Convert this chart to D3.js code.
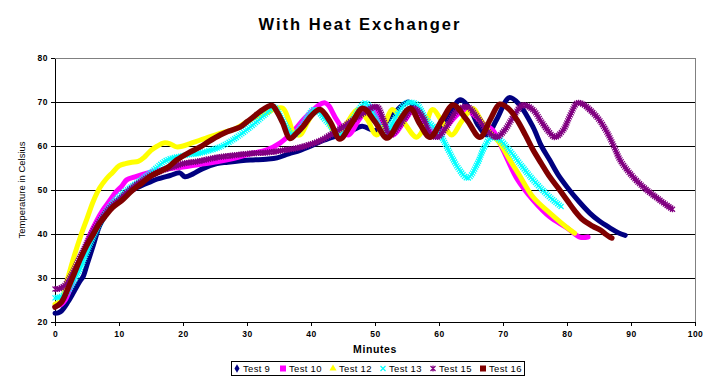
<!DOCTYPE html>
<html><head><meta charset="utf-8">
<script src="https://cdn.jsdelivr.net/npm/d3@7"></script>
<style>
html,body{margin:0;padding:0;background:#fff;}
svg{display:block;font-family:"Liberation Sans",Arial,sans-serif;}
</style></head>
<body>
<svg id="chart" width="720" height="382"></svg>
<script>
// ---------- DATA ----------
const title = "With Heat Exchanger";
const xTicks = [0,10,20,30,40,50,60,70,80,90,100];
const yTicks = [20,30,40,50,60,70,80];
const seriesNames = ["Test 9","Test 10","Test 12","Test 13","Test 15","Test 16"];

const test9Min  = [0,0.5,1,2,3,4,4.4,5,6,7,8,9,9.7,11,12.5,14.8,16,18,19.5,20.3,21.5,23,25.3,27,30.5,33,34.7,36.5,38.3,40,42,44,46,48,50,51.5,53,55.2,56.5,58,59.7,61.3,63.3,65,66,67.5,69,71,72.5,74.7,76,77.3,78.6,80,81.8,83.6,85,86.7,88,89.1];
const test9Temp = [22,22.1,22.5,24.5,27,29.5,30.3,33,37.5,42,44.5,46.5,47.5,49,50.3,51.8,52.5,53.3,53.9,53,53.6,54.8,56,56.3,56.8,57,57.3,58.2,59,60,61.3,62.3,63.2,64.5,63.5,65,67.5,70,68.3,64.5,62.5,66,70.5,68,65,62.5,66,71,69.5,64.3,60,56.8,53.5,50.7,47.5,44.7,43,41.4,40.3,39.7];

const test10Min  = [0,1,1.6,2.5,3.5,4.5,5.5,6.5,7.5,8.5,9.5,10.5,11.2,12.5,14.8,17,20,22.5,25.3,28,30.5,33.1,35.2,37,39.5,42.2,44,45.8,47.5,49.3,51.3,52.8,54.5,56.3,58,59.7,61.5,64,65.5,67,68.4,70,72.2,74.7,77.3,80,82,83.3];
const test10Temp = [23.5,24,25,28,32,36,40,43,45.5,47.5,49.5,51,52.3,53,54,54.7,55.2,55.8,56.4,57.2,58.2,59.1,60.7,63,67,69.8,66,62.5,66,69,65,62.5,65.5,68.5,65,62.5,65,68.3,67,65,63.6,59.1,52.5,47.7,43.9,41.4,39.3,39.3];

const test12Min  = [0,1,2,3,4,5,6,7,8,9,10,11,12,13,14,15,16,17,18,19,20,21,22,23,24,25,26,28,30,32,33,34.5,35.6,36.5,37.3,38.3,39.5,41,42.5,44,45.5,47.3,48.8,50.2,51.5,52.7,54.2,56.5,57.8,59,60.5,62,63.5,65.3,66.5,68,69.5,71,72.5,74.7,77.3,80.5,81.2];
const test12Temp = [24,25,30,35,39.5,43.5,47.5,50.5,52.5,54,55.5,56,56.3,56.5,57.5,59,60,60.7,60.5,59.8,60,60.5,61,61.5,62,62.5,63,63.8,65.5,67,67.5,68.5,68.6,66,63,62.5,65.5,68.3,66,62.5,65,68.3,66,62.5,65,68.3,66,62,64.5,68.3,65.5,62.5,65.5,68.5,66,63,60.7,57,53.5,48.4,44.8,40.9,40.2];

const test13Min  = [0,1,2,3,4,5,6,7,8,9,10,11.5,13,15,17.5,20,22.7,25.8,27.8,30.5,33.1,34.2,35.5,37.2,38.8,40.5,42.5,44.5,46.5,48.5,50,51.6,53,55,56.5,58,60,61.5,63,64.5,66,67,68.2,69.5,71,72.2,74.7,77.3,79.2];
const test13Temp = [25.5,25.8,27,29.5,32.5,36,39.5,42.5,45,47,48.5,50.3,51.8,54,56.8,57.8,58.4,59.8,61.4,64.3,67.5,68.9,66,62.5,65,68.3,65.5,62.5,66,69.8,66.5,62.5,66,69.8,69.5,66,63,59,55,52.7,56,59.5,62,61.4,59,56.8,52.3,48.4,46.1];

const test15Min  = [0,0.5,1,1.6,2.5,3.5,4.5,5.5,6.5,7.5,8.5,10,11.5,13,15,16.5,18.3,20,22.3,25.3,28,30.5,33,35.6,38.3,41.4,43,45,47.7,50.3,51.3,52.3,54,56,57.5,58.5,59.7,61,62.8,64.4,66,67.5,69,70.2,71.6,73.1,74.7,76,77.3,78.1,79.4,80.5,81.6,82.5,83.6,85,86.3,87.3,88.3,90,91.9,94.5,96.6];
const test15Temp = [27.5,27.5,27.8,28.4,30.5,33.5,36.5,39.5,42,44,45.8,47.8,49.8,51.5,53.3,54.3,55.2,56,56.5,57.4,57.9,58.3,58.5,59,59.7,61.2,62.5,64.3,67,68.9,66,62.5,65,68.5,66.5,63,62,64,68,68.9,66.5,63.5,62,63.5,66.6,69.3,68.2,65.5,63,62,63.6,67,69.8,69.5,68.2,66,63,60,56.8,53.5,50.7,47.7,45.5];

const test16Min  = [0,1,2,3,4,5,6,7,8,9,10.5,12,13.6,15,17.7,19,20.8,22.7,24,25.8,27,28.9,30,31,32,33.9,34.8,35.6,36.7,37.8,38.8,40,41.4,43,44.5,46.3,48.1,50,51.9,53.7,55.5,57,58.6,60.5,62.2,64.3,66.4,68,69.5,71,72.2,73.5,74.7,76,77.3,78.7,80,81.2,82.5,84,85.2,86,86.7,87];
const test16Temp = [23.4,24.5,27.5,31,34.5,37.5,40,42.5,44.3,46,47.7,49.8,51.6,53.2,55.2,56.8,58.4,59.8,61,62.5,63.3,64.3,65.5,66.6,67.8,69.2,67.5,65.2,61.7,63,64.5,66.8,68.3,65.5,61.6,65,68.6,65.5,61.8,65.5,68.6,65,62,66,69.3,66,62,66,69.5,68.3,65.9,62.5,59.1,56,53,50.3,47.7,45.3,43.2,41.8,40.9,40,39.3,39.1];

// ---------- STYLES ----------
const colors = ["#000080","#FF00FF","#FFFF00","#00FFFF","#800080","#800000"];
const seriesMins = [test9Min,test10Min,test12Min,test13Min,test15Min,test16Min];
const seriesTemps = [test9Temp,test10Temp,test12Temp,test13Temp,test15Temp,test16Temp];

const svg = d3.select("#chart");
const L = 55, R = 695, T = 58, B = 322;
const x = d3.scaleLinear().domain([0,100]).range([L,R]);
const y = d3.scaleLinear().domain([20,80]).range([B,T]);

// title
svg.append("text").attr("x",360).attr("y",30).attr("text-anchor","middle")
  .attr("font-size","16.5px").attr("font-weight","bold").attr("letter-spacing","2px").text(title);

// gridlines
svg.append("g").selectAll("line").data(yTicks.filter(v=>v>20 && v<80)).join("line")
  .attr("x1",L).attr("x2",R).attr("y1",d=>y(d)).attr("y2",d=>y(d))
  .attr("stroke","#000").attr("stroke-width",1).attr("shape-rendering","crispEdges");
// top & right border
svg.append("line").attr("x1",L).attr("x2",R).attr("y1",T).attr("y2",T).attr("stroke","#808080").attr("shape-rendering","crispEdges");
svg.append("line").attr("x1",R).attr("x2",R).attr("y1",T).attr("y2",B).attr("stroke","#808080").attr("shape-rendering","crispEdges");

// axes
const yAxis = d3.axisLeft(y).tickValues(yTicks).tickSize(4).tickPadding(3).tickSizeOuter(0);
const xAxis = d3.axisBottom(x).tickValues(xTicks).tickSize(4).tickPadding(5).tickSizeOuter(0);
const gy = svg.append("g").attr("transform",`translate(${L},0)`).call(yAxis);
const gx = svg.append("g").attr("transform",`translate(0,${B})`).call(xAxis);
[gx,gy].forEach(g=>{
  g.selectAll("path,line").attr("stroke","#000").attr("shape-rendering","crispEdges");
  g.selectAll("text").attr("font-size","8.5px").attr("font-weight","bold").attr("fill","#000")
   .attr("letter-spacing","0.5px")
   .attr("font-family","'Liberation Sans',Arial,sans-serif");
});

// axis titles
svg.append("text").attr("x",375).attr("y",353).attr("text-anchor","middle")
  .attr("font-size","10.5px").attr("font-weight","bold").attr("letter-spacing","0.6px").text("Minutes");
svg.append("text").attr("transform","translate(25,190) rotate(-90)").attr("text-anchor","middle")
  .attr("font-size","9.5px").text("Temperature in Celsius");

// series
const line = d3.line().x(d=>x(d[0])).y(d=>y(d[1])).curve(d3.curveCatmullRom.alpha(0.5));
const plot = svg.append("g");
const markerPath = {
  cross: "M-2.5,-2.5L2.5,2.5M-2.5,2.5L2.5,-2.5",
  star: "M-2.5,-2.5L2.5,2.5M-2.5,2.5L2.5,-2.5M0,-3L0,3"
};
seriesNames.forEach((name,i)=>{
  const pts = seriesMins[i].map((m,j)=>[m,seriesTemps[i][j]]);
  if (i===3 || i===4) {
    const p = plot.append("path").datum(pts).attr("d",line).attr("fill","none")
      .attr("stroke",colors[i]).attr("stroke-width",1.5);
    const node = p.node(), len = node.getTotalLength();
    const samples = d3.range(0,len,2.2).map(l=>node.getPointAtLength(l));
    plot.append("g").selectAll("path").data(samples).join("path")
      .attr("transform",d=>`translate(${d.x},${d.y})`)
      .attr("d", i===3 ? markerPath.cross : markerPath.star)
      .attr("stroke",colors[i]).attr("stroke-width",1.2).attr("fill","none");
  } else {
    plot.append("path").datum(pts).attr("d",line).attr("fill","none")
      .attr("stroke",colors[i]).attr("stroke-width", i===5 ? 5.5 : 5)
      .attr("stroke-linejoin","round").attr("stroke-linecap","round");
  }
});

// legend
const lg = svg.append("g");
lg.append("rect").attr("x",231.5).attr("y",361.5).attr("width",293).attr("height",14)
  .attr("fill","#fff").attr("stroke","#000");
const legX = [237,283,333,383,433,483];
seriesNames.forEach((name,i)=>{
  const cx = legX[i], cy = 368.5;
  let sym;
  if (i===0) sym = lg.append("path").attr("d",d3.symbol(d3.symbolDiamond,22)()).attr("fill",colors[i]);
  else if (i===1 || i===5) sym = lg.append("rect").attr("x",-3).attr("y",-3).attr("width",6).attr("height",6).attr("fill",colors[i]);
  else if (i===2) sym = lg.append("path").attr("d",d3.symbol(d3.symbolTriangle,22)()).attr("fill",colors[i]);
  else sym = lg.append("path").attr("d", i===3 ? markerPath.cross : markerPath.star).attr("stroke",colors[i]).attr("stroke-width",1.2).attr("fill","none");
  sym.attr("transform",`translate(${cx},${cy})`);
  lg.append("text").attr("x",cx+6).attr("y",372).attr("font-size","9.5px").attr("letter-spacing","0.3px").text(name);
});
</script>
</body></html>
